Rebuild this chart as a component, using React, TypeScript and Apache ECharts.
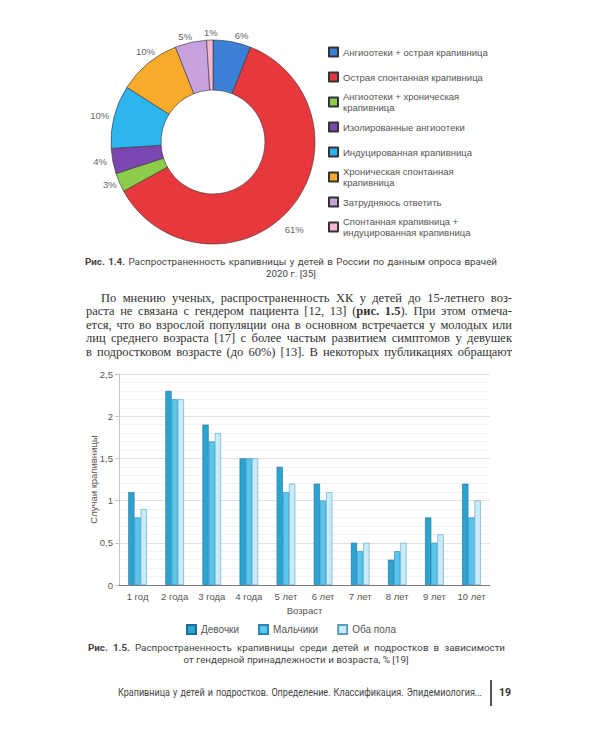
import React, { useEffect, useRef } from "react";
import * as echarts from "echarts";

const pieNames = [
  "Ангиоотеки + острая крапивница",
  "Острая спонтанная крапивница",
  "Ангиоотеки + хроническая\nкрапивница",
  "Изолированные ангиоотеки",
  "Индуцированная крапивница",
  "Хроническая спонтанная\nкрапивница",
  "Затрудняюсь ответить",
  "Спонтанная крапивница +\nиндуцированная крапивница",
];
const pieValues = [6, 61, 3, 4, 10, 10, 5, 1];
const pieColors = ["#3b7fd6", "#e8383d", "#8dcb4b", "#7b46b0", "#2db5f0", "#f8aa2a", "#c7a2df", "#f5b8d2"];
const pieLegendCenters = [52, 77, 102, 127, 152, 177, 202, 227];
// small per-label nudges [dx, dy] to match the reference placement
const pieLabelNudge = [[-3, -3], [-12, 18], [5, 1], [2, 0], [3, 0], [14, -10], [7, -3], [13, -5]];

const ageLabels = ["1 год", "2 года", "3 года", "4 года", "5 лет", "6 лет", "7 лет", "8 лет", "9 лет", "10 лет"];
const girls = [1.1, 2.3, 1.9, 1.5, 1.4, 1.2, 0.5, 0.3, 0.8, 1.2];
const boys = [0.8, 2.2, 1.7, 1.5, 1.1, 1.0, 0.4, 0.4, 0.5, 0.8];
const both = [0.9, 2.2, 1.8, 1.5, 1.2, 1.1, 0.5, 0.5, 0.6, 1.0];
const barSeriesNames = ["Девочки", "Мальчики", "Оба пола"];
const barColors = ["#2ba4d2", "#58c6ef", "#c8ecfa"];
const barBorders = ["#1b6f96", "#2a86b0", "#5a9fbe"];

const bodyLines = [
  "По мнению ученых, распространенность ХК у детей до 15-летнего воз-",
  "раста не связана с гендером пациента [12, 13] (<b>рис. 1.5</b>). При этом отмеча-",
  "ется, что во взрослой популяции она в основном встречается у молодых или",
  "лиц среднего возраста [17] с более частым развитием симптомов у девушек",
  "в подростковом возрасте (до 60%) [13]. В некоторых публикациях обращают",
];

const SANS = "'Liberation Sans', Arial, sans-serif";

function JLine(props: {
  x: number; y: number; w: number; size: number; family: string; color: string;
  html: string; align?: "justify" | "center" | "left"; weight?: number; sx?: number;
}) {
  const lh = props.size + 2;
  const align = props.align || "justify";
  const sx = props.sx || 1;
  return (
    <div
      style={{
        position: "absolute",
        left: props.x,
        top: props.y - lh / 2,
        width: props.w / sx,
        height: lh,
        lineHeight: lh + "px",
        fontSize: props.size,
        fontFamily: props.family,
        color: props.color,
        fontWeight: props.weight || 400,
        whiteSpace: "nowrap",
        textAlign: align,
        textAlignLast: align,
        transform: sx !== 1 ? `scaleX(${sx})` : undefined,
        transformOrigin: "left center",
        margin: 0,
      } as React.CSSProperties}
      dangerouslySetInnerHTML={{ __html: props.html }}
    />
  );
}

export default function App() {
  const ref = useRef<HTMLDivElement>(null);

  useEffect(() => {
    if (!ref.current) return;
    const chart = echarts.init(ref.current, undefined, { renderer: "svg" });

    const pieLegends = pieNames.map((n, i) => {
      const twoLine = n.indexOf("\n") >= 0;
      const h = twoLine ? 22 : 11;
      return {
        show: true,
        orient: "vertical",
        left: 328,
        top: pieLegendCenters[i] - h / 2,
        data: [n],
        itemWidth: 9,
        itemHeight: 9,
        padding: 0,
        icon: "rect",
        selectedMode: false,
        textStyle: { fontSize: 9.5, color: "#555", lineHeight: 11, fontFamily: SANS, padding: [0, 0, 0, 0] },
      };
    });

    const barLegend = {
      show: true,
      orient: "horizontal",
      left: 186,
      top: 624,
      data: barSeriesNames,
      itemWidth: 9,
      itemHeight: 9,
      itemGap: 19,
      padding: 0,
      icon: "rect",
      selectedMode: false,
      textStyle: { fontSize: 10, color: "#555", fontFamily: SANS },
    };

    const fmt = (v: number) => String(v).replace(".", ",");

    chart.setOption({
      animation: false,
      backgroundColor: "#ffffff",
      textStyle: { fontFamily: SANS },
      legend: [...pieLegends, barLegend],
      grid: { left: 119, right: 110, top: 374, bottom: 165, containLabel: false },
      xAxis: {
        type: "category",
        data: ageLabels,
        name: "Возраст",
        nameLocation: "middle",
        nameGap: 20,
        nameTextStyle: { fontSize: 9.5, color: "#555" },
        axisLine: { show: true, lineStyle: { color: "#777", width: 1 } },
        axisTick: { show: false },
        axisLabel: { fontSize: 9.5, color: "#555", margin: 6 },
      },
      yAxis: {
        type: "value",
        min: 0,
        max: 2.5,
        interval: 0.5,
        name: "Случаи крапивницы",
        nameLocation: "middle",
        nameGap: 21,
        nameRotate: 90,
        nameMoveOverlap: false,
        nameTextStyle: { fontSize: 9.5, color: "#555" },
        axisLine: { show: true, lineStyle: { color: "#c4c4c4" } },
        axisTick: { show: true, length: 4, lineStyle: { color: "#c4c4c4" } },
        axisLabel: { fontSize: 9.5, color: "#555", margin: 6, formatter: fmt },
        splitLine: { show: true, lineStyle: { color: "#e2e2e2" } },
        minorTick: { show: false, splitNumber: 5 },
        minorSplitLine: { show: true, lineStyle: { color: "#f3f3f3" } },
      },
      series: [
        {
          type: "pie",
          center: [213, 142],
          radius: [52, 102],
          startAngle: 90,
          clockwise: true,
          avoidLabelOverlap: false,
          legendHoverLink: false,
          data: pieNames.map((n, i) => ({ name: n, value: pieValues[i], itemStyle: { color: pieColors[i] } })),
          itemStyle: { borderColor: "#333", borderWidth: 0.6 },
          label: { show: true, position: "outside", formatter: "{c}%", fontSize: 9.5, color: "#666" },
          labelLine: { show: false, length: 3, length2: 0 },
          labelLayout: (p: any) => {
            const nd = pieLabelNudge[p.dataIndex] || [0, 0];
            return { dx: nd[0], dy: nd[1] };
          },
          emphasis: { disabled: true },
        },
        ...[girls, boys, both].map((d, i) => ({
          type: "bar",
          name: barSeriesNames[i],
          data: d,
          barGap: "0%",
          barCategoryGap: "50%",
          itemStyle: { color: barColors[i], borderColor: barBorders[i], borderWidth: 0.6 },
          emphasis: { disabled: true },
        })),
      ],
    });

    return () => chart.dispose();
  }, []);

  const serif = "'Liberation Serif', 'Times New Roman', serif";
  const capSans = "Roboto, 'Liberation Sans', sans-serif";

  return (
    <div style={{ position: "absolute", left: 0, top: 0, width: 600, height: 750, background: "#fff", overflow: "hidden" }}>
      <div ref={ref} style={{ position: "absolute", left: 0, top: 0, width: 600, height: 750 }} />
      <JLine x={85} y={262} w={412} size={9.8} family={capSans} color="#444"
        html={"<b>Рис. 1.4.</b> Распространенность крапивницы у детей в России по данным опроса врачей"} />
      <JLine x={191} y={274} w={200} size={9.8} family={capSans} color="#444" align="center"
        html={"2020 г. [35]"} />
      {bodyLines.map((t, i) => (
        <JLine key={i} x={i === 0 ? 101 : 86} y={298 + i * 13.5} w={i === 0 ? 411 : 426} size={12.5}
          family={serif} color="#333" html={t} />
      ))}
      <JLine x={88} y={648} w={417} size={9.8} family={capSans} color="#444"
        html={"<b>Рис. 1.5.</b> Распространенность крапивницы среди детей и подростков в зависимости"} />
      <JLine x={146} y={660} w={300} size={9.8} family={capSans} color="#444" align="center"
        html={"от гендерной принадлежности и возраста, % [19]"} />
      <JLine x={118} y={693} w={364} size={10.5} sx={0.86} family={capSans} color="#444"
        html={"Крапивница у детей и подростков. Определение. Классификация. Эпидемиология..."} />
      <div style={{ position: "absolute", left: 490, top: 680, width: 1.5, height: 26, background: "#555" }} />
      <JLine x={499} y={693} w={20} size={10.5} family={capSans} color="#333" align="left" weight={700}
        html={"19"} />
    </div>
  );
}
